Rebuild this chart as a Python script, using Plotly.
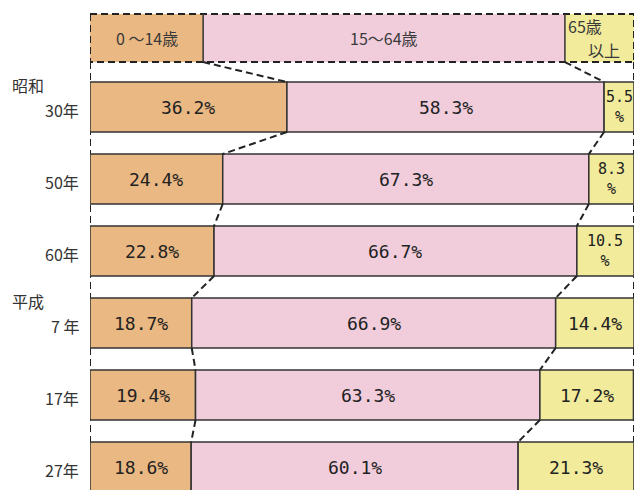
import plotly.graph_objects as go

# ---- data ----
eras = ["昭和", "", "", "平成", "", ""]
years = ["30年", "50年", "60年", "7 年", "17年", "27年"]
young = [36.2, 24.4, 22.8, 18.7, 19.4, 18.6]      # 0~14歳
working = [58.3, 67.3, 66.7, 66.9, 63.3, 60.1]    # 15~64歳
old = [5.5, 8.3, 10.5, 14.4, 17.2, 21.3]          # 65歳以上
header_labels = ["0 〜14歳", "15〜64歳", "65歳", "以上"]
header_shares = [20.8, 66.5, 12.7]

colors = ["#EAB882", "#F1CDDC", "#F1EB9B"]
edge = "#333333"

n = len(years)
rows = list(range(n))
hdr_y = -0.958
bw = 0.694
hw = 0.667
y_range = [5.319, -1.486]

fig = go.Figure()

base = 0
for w, c in zip(header_shares, colors):
    fig.add_trace(go.Bar(y=[hdr_y], x=[w], base=[base], orientation="h", width=hw,
                         marker=dict(color=c, line=dict(width=0)), showlegend=False,
                         hoverinfo="skip"))
    base += w

for vals, c, b in [(young, colors[0], [0] * n),
                   (working, colors[1], young),
                   (old, colors[2], [a + w for a, w in zip(young, working)])]:
    fig.add_trace(go.Bar(y=rows, x=vals, base=b, orientation="h", width=bw,
                         marker=dict(color=c, line=dict(color=edge, width=1.5)),
                         showlegend=False))

shapes = []
dash = dict(color="#222222", width=2, dash="7px,4px")
for xv in (0, 100):
    shapes.append(dict(type="line", xref="x", yref="y", x0=xv, x1=xv,
                       y0=hdr_y + hw / 2, y1=y_range[0], line=dash, layer="below"))
shapes.append(dict(type="rect", xref="x", yref="y", x0=0, x1=100,
                   y0=hdr_y - hw / 2, y1=hdr_y + hw / 2, line=dash))
hb1 = header_shares[0]
hb2 = header_shares[0] + header_shares[1]
for xv in (hb1, hb2):
    shapes.append(dict(type="line", xref="x", yref="y", x0=xv, x1=xv,
                       y0=hdr_y - hw / 2, y1=hdr_y + hw / 2,
                       line=dict(color=edge, width=1.5)))

b1 = young
b2 = [a + w for a, w in zip(young, working)]
shapes.append(dict(type="line", xref="x", yref="y", x0=hb1, x1=b1[0],
                   y0=hdr_y + hw / 2, y1=rows[0] - bw / 2, line=dash))
shapes.append(dict(type="line", xref="x", yref="y", x0=hb2, x1=b2[0],
                   y0=hdr_y + hw / 2, y1=rows[0] - bw / 2, line=dash))
for k in range(n - 1):
    for bb in (b1, b2):
        shapes.append(dict(type="line", xref="x", yref="y", x0=bb[k], x1=bb[k + 1],
                           y0=rows[k] + bw / 2, y1=rows[k + 1] - bw / 2, line=dash))

annotations = []
pct_font = dict(family="DejaVu Sans Mono", size=18, color="#222222")
small_font = dict(family="DejaVu Sans Mono", size=15, color="#222222")
lab_font = dict(family="Noto Sans CJK JP", size=16, color="#333333")
for k in rows:
    annotations.append(dict(x=young[k] / 2, y=k, xref="x", yref="y", showarrow=False,
                            text=f"{young[k]:.1f}%", font=pct_font))
    annotations.append(dict(x=young[k] + working[k] / 2, y=k, xref="x", yref="y",
                            showarrow=False, text=f"{working[k]:.1f}%", font=pct_font))
    if old[k] < 12:
        t, f = f"{old[k]:.1f}<br>%", small_font
    else:
        t, f = f"{old[k]:.1f}%", pct_font
    annotations.append(dict(x=b2[k] + old[k] / 2, y=k, xref="x", yref="y",
                            showarrow=False, text=t, font=f))
    annotations.append(dict(x=0, y=k, xref="paper", yref="y", xanchor="right",
                            xshift=-9, yshift=-3, showarrow=False, text=years[k],
                            font=lab_font))
    if eras[k]:
        annotations.append(dict(x=0, y=k - 0.3, xref="paper", yref="y", xanchor="right",
                                xshift=-44, showarrow=False, text=eras[k], font=lab_font))

hfont = dict(family="Noto Sans CJK JP", size=16, color="#3a3a3a")
annotations.append(dict(x=header_shares[0] / 2, y=hdr_y, xref="x", yref="y",
                        showarrow=False, text=header_labels[0], font=hfont))
annotations.append(dict(x=hb1 + header_shares[1] / 2, y=hdr_y, xref="x", yref="y",
                        showarrow=False, text=header_labels[1], font=hfont))
annotations.append(dict(x=hb2, y=hdr_y - hw / 4, xref="x", yref="y", xanchor="left",
                        xshift=1, showarrow=False, text=header_labels[2], font=hfont))
annotations.append(dict(x=100, y=hdr_y + hw / 4, xref="x", yref="y", xanchor="right",
                        xshift=-12, showarrow=False, text=header_labels[3], font=hfont))

fig.update_layout(
    width=636, height=490,
    margin=dict(l=90, r=2, t=0, b=0),
    paper_bgcolor="white", plot_bgcolor="white",
    barmode="overlay",
    xaxis=dict(range=[0, 100], visible=False, fixedrange=True),
    yaxis=dict(range=y_range, visible=False, fixedrange=True),
    shapes=shapes, annotations=annotations,
)

fig.write_html("out.html", config={"displayModeBar": False},
               post_script="document.body.style.margin='0';document.body.style.overflow='hidden';")
